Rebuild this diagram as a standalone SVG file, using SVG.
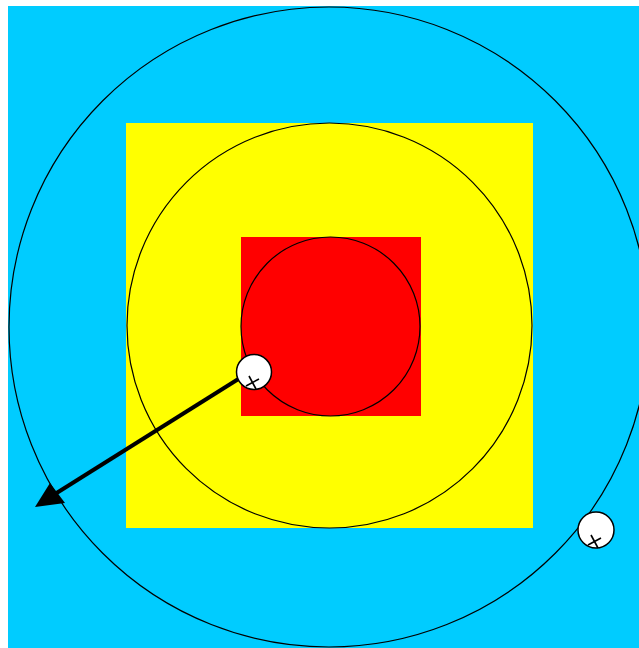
<svg xmlns="http://www.w3.org/2000/svg" width="639" height="648" viewBox="0 0 639 648">
<style>
.ring{fill:none;stroke:#000;stroke-width:1.2}
.dot{fill:#fff;stroke:#000;stroke-width:1.5}
.cross{stroke:#000;stroke-width:1.6;fill:none}
</style>
<rect width="639" height="648" fill="#fff"/>
<g id="outer"><rect x="8" y="6" width="631" height="642" fill="#00ccff"/><circle class="ring" cx="329" cy="327" r="320"/></g>
<g id="middle"><rect x="126" y="123" width="407" height="405" fill="#ffff00"/><circle class="ring" cx="329.5" cy="325.5" r="202.5"/></g>
<g id="inner"><rect x="241" y="237" width="180" height="179" fill="#ff0000"/><circle class="ring" cx="330.5" cy="326.5" r="89.5"/></g>
<g id="connectors">
<line x1="240" y1="378" x2="55" y2="494" stroke="#000" stroke-width="4"/>
<polygon points="35,507 50,483 65,503" fill="#000"/>
</g>
<g id="dot1"><circle class="dot" cx="254" cy="372" r="17.5"/><path class="cross" d="M249,376 L256,389 M246,386 L259,379"/></g>
<g id="dot2"><circle class="dot" cx="596" cy="530" r="18"/><path class="cross" d="M591,535 L598,548 M588,545 L601,538"/></g>
</svg>
